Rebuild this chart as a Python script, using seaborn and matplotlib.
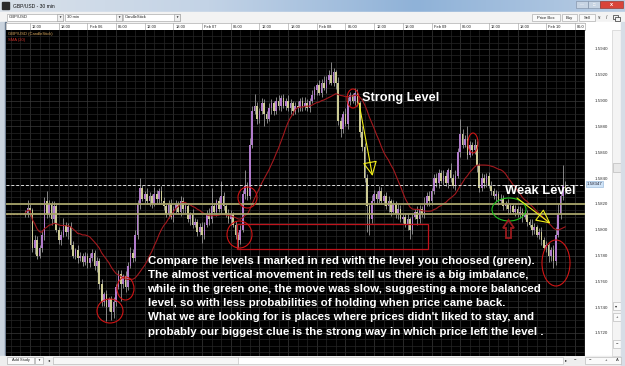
import numpy as np
import pandas as pd
import matplotlib
matplotlib.use("Agg")
import matplotlib.pyplot as plt
import seaborn as sns
from matplotlib.patches import Rectangle, Ellipse, Polygon

sns.set_style("dark")
plt.rcParams['font.family'] = ['Liberation Sans', 'DejaVu Sans']

W, H = 625, 366

# ---------------- data (pips above 1.5700, 30-min candles, first candle = Feb 05 11:00) ----
close_pips = [
    113, 117, 115, 86, 92, 80, 86, 96, 122, 112, 120, 108, 118, 100, 92, 96, 104, 98, 102, 88,
    80, 84, 78, 80, 75, 80, 74, 78, 82, 72, 76, 58, 44, 50, 40, 46, 36, 44, 56, 66,
    58, 64, 56, 72, 82, 78, 96, 120, 132, 124, 128, 122, 126, 120, 128, 124, 130, 122, 118, 112,
    120, 110, 116, 120, 114, 122, 116, 118, 108, 112, 104, 106, 98, 102, 96, 104, 112, 108, 118, 114,
    122, 116, 126, 118, 112, 108, 112, 104, 96, 92, 100, 128, 134, 126, 166, 192, 196, 186, 192, 198,
    190, 186, 194, 198, 192, 200, 196, 202, 196, 200, 194, 198, 192, 196, 194, 200, 196, 198, 194, 200,
    204, 208, 212, 206, 214, 210, 216, 220, 214, 222, 214, 184, 178, 190, 182, 200, 204, 200, 206, 198,
    176, 164, 140, 118, 108, 122, 128, 124, 130, 122, 126, 118, 122, 114, 120, 112, 116, 108, 110, 104,
    108, 100, 110, 114, 108, 116, 112, 120, 126, 122, 130, 140, 136, 144, 138, 142, 136, 146, 140, 134,
    142, 160, 174, 166, 170, 158, 166, 162, 166, 150, 132, 140, 136, 142, 134, 130, 126, 128, 122, 124,
    118, 120, 116, 118, 114, 116, 112, 114, 110, 112, 106, 104, 100, 102, 96, 98, 92, 86, 88, 80,
    84, 76, 96, 112, 126, 134, 130,
]
up_wick = [
    2, 6, 3, 2, 4, 3, 2, 4, 3, 8, 3, 2, 4, 3, 2, 3, 5, 2, 3, 4,
    3, 2, 4, 3, 2, 3, 2, 4, 3, 2, 3, 2, 4, 2, 3, 2, 3, 4, 2, 3,
    3, 2, 4, 3, 5, 3, 4, 3, 8, 3, 2, 4, 3, 2, 5, 3, 2, 4, 3, 2,
    3, 4, 2, 3, 2, 4, 3, 2, 3, 2, 4, 3, 2, 3, 4, 2, 3, 5, 14, 3,
    2, 3, 12, 3, 2, 4, 3, 2, 3, 2, 4, 3, 12, 3, 5, 4, 9, 3, 2, 4,
    3, 2, 4, 3, 2, 3, 4, 2, 3, 2, 4, 3, 2, 3, 4, 2, 3, 5, 3, 2,
    4, 3, 2, 4, 3, 5, 3, 4, 10, 3, 2, 4, 3, 2, 4, 3, 3, 2, 4, 3,
    2, 4, 3, 3, 2, 5, 3, 2, 4, 3, 2, 3, 4, 2, 3, 2, 4, 3, 2, 3,
    4, 2, 3, 2, 4, 3, 2, 5, 3, 4, 2, 3, 4, 3, 2, 4, 3, 2, 6, 3,
    4, 3, 12, 4, 3, 10, 3, 2, 4, 3, 2, 4, 3, 2, 3, 4, 2, 3, 2, 4,
    3, 2, 4, 3, 2, 3, 2, 4, 3, 2, 3, 2, 4, 3, 2, 3, 4, 2, 3, 2,
    3, 4, 6, 8, 3, 16, 4,
]
dn_wick = [
    2, 3, 4, 3, 5, 3, 2, 3, 4, 3, 2, 4, 3, 2, 3, 4, 2, 3, 5, 3,
    2, 3, 4, 2, 3, 2, 4, 3, 2, 3, 5, 4, 3, 3, 11, 3, 6, 4, 3, 2,
    13, 3, 4, 3, 2, 3, 2, 3, 4, 2, 3, 2, 4, 3, 2, 3, 4, 2, 3, 2,
    3, 2, 4, 3, 2, 3, 4, 3, 2, 4, 3, 2, 3, 2, 6, 3, 2, 4, 3, 2,
    3, 2, 4, 3, 2, 3, 4, 2, 3, 6, 3, 2, 4, 3, 2, 3, 2, 4, 3, 2,
    10, 3, 2, 4, 3, 2, 3, 4, 2, 3, 2, 4, 3, 2, 3, 2, 4, 3, 2, 3,
    2, 3, 4, 2, 3, 2, 4, 3, 2, 3, 5, 3, 6, 3, 2, 4, 3, 2, 3, 2,
    4, 3, 3, 20, 12, 3, 2, 4, 3, 2, 3, 2, 4, 3, 2, 3, 4, 2, 3, 2,
    4, 7, 3, 2, 4, 3, 2, 3, 2, 4, 3, 2, 3, 4, 2, 3, 2, 4, 3, 2,
    3, 2, 4, 3, 2, 3, 2, 4, 3, 5, 3, 2, 4, 3, 2, 3, 2, 4, 3, 2,
    3, 2, 3, 4, 2, 3, 2, 3, 4, 2, 3, 2, 4, 3, 2, 3, 4, 2, 3, 5,
    4, 6, 3, 2, 4, 3, 2,
]
first_open_pips = 112
price_ticks = [1.5720, 1.5740, 1.5760, 1.5780, 1.5800, 1.5820, 1.5840,
               1.5860, 1.5880, 1.5900, 1.5920, 1.5940]
time_labels = ["12:00", "18:00", "Feb 06", "06:00", "12:00", "18:00", "Feb 07", "06:00",
               "12:00", "18:00", "Feb 08", "06:00", "12:00", "18:00", "Feb 09", "06:00",
               "12:00", "18:00", "Feb 10", "06:0"]
time_label_idx = [0, 12, 24, 36, 48, 60, 72, 84, 96, 108, 120, 132, 144, 156, 168,
                  180, 192, 204, 216, 228]
last_price = 1.58347
zone_top, zone_bot = 1.5820, 1.58125
red_box = (86.5, 166.5, 1.5785, 1.58046)   # x from, x to, price low, price high

# ---------------- derived frame ----------------
base = 1.5700
idx = np.arange(-2, -2 + len(close_pips))
c = base + np.array(close_pips) / 10000.0
o = np.concatenate([[base + first_open_pips / 10000.0], c[:-1]])
hi = np.maximum(o, c) + np.array(up_wick) / 10000.0
lo = np.minimum(o, c) - np.array(dn_wick) / 10000.0
df = pd.DataFrame({"i": idx, "open": o, "close": c, "high": hi, "low": lo})
df["sma"] = df["close"].rolling(20, min_periods=1).mean()

# pixel <-> data helpers (layout only)
PX_PER_BAR = 2.39
X0PX = 30.0
PX_PER_UNIT = 12909.0
def xi(px):
    return (px - X0PX) / PX_PER_BAR
def yp(py):
    return 1.5940 - (py - 49.0) / PX_PER_UNIT

fig = plt.figure(figsize=(W / 100, H / 100), dpi=100)
fig.patch.set_facecolor("#eef0f3")

def pax(x0, y0, x1, y1, **kw):
    return fig.add_axes([x0 / W, 1 - y1 / H, (x1 - x0) / W, (y1 - y0) / H], **kw)

# ---------------- window chrome (pixel overlay) ----------------
ov = pax(0, 0, W, H)
ov.set_xlim(0, W); ov.set_ylim(H, 0); ov.axis("off")
grad = np.linspace(0, 1, 256).reshape(1, -1)
ov.imshow(grad, extent=(0, W, 12, 0), cmap=matplotlib.colors.LinearSegmentedColormap.from_list(
    "tb", ["#d9e1ea", "#c3d3e6", "#8fb2d8", "#b9cde4"]), aspect="auto", zorder=1)
ov.add_patch(Rectangle((2, 2), 7, 7, color="#2b2b2b", zorder=2))
ov.text(13, 6.2, "GBP/USD - 30 min", fontsize=3.6, va="center", ha="left", color="#111", zorder=3)
ov.add_patch(Rectangle((576, 0.5), 12, 7.5, fc="#c7d4e3", ec="#7a8aa0", lw=0.4, zorder=2))
ov.add_patch(Rectangle((588, 0.5), 12, 7.5, fc="#c7d4e3", ec="#7a8aa0", lw=0.4, zorder=2))
ov.add_patch(Rectangle((600, 0.5), 23, 7.5, fc="#d9443a", ec="#8a2a20", lw=0.4, zorder=2))
ov.text(582, 4.5, "—", fontsize=3, ha="center", va="center", color="#fff", zorder=3)
ov.text(594, 4.5, "□", fontsize=3, ha="center", va="center", color="#fff", zorder=3)
ov.text(611.5, 4.5, "x", fontsize=4, ha="center", va="center", color="#fff", weight="bold", zorder=3)
# toolbar
ov.add_patch(Rectangle((0, 12), W, 10.5, color="#f3f3f3", zorder=1))
for (a, b, lab) in [(7, 63, "GBP/USD"), (65, 121.5, "30 min"), (123, 180, "CandleStick")]:
    ov.add_patch(Rectangle((a, 13.5), b - a, 7.5, fc="white", ec="#9a9a9a", lw=0.4, zorder=2))
    ov.add_patch(Rectangle((b - 6, 13.5), 6, 7.5, fc="#f0f0f0", ec="#9a9a9a", lw=0.4, zorder=2))
    ov.text(b - 3, 17.3, "▼", fontsize=2.3, ha="center", va="center", color="#222", zorder=3)
    ov.text(a + 2, 17.3, lab, fontsize=3, ha="left", va="center", color="#222", zorder=3)
for (a, b, lab) in [(532, 560, "Price Box"), (562, 577, "Buy"), (579, 595, "Sell")]:
    ov.add_patch(Rectangle((a, 14), b - a, 7, fc="#fafafa", ec="#a0a0a0", lw=0.4, zorder=2))
    ov.text((a + b) / 2, 17.6, lab, fontsize=3, ha="center", va="center", color="#222", zorder=3)
ov.text(599.5, 17.6, "¥", fontsize=3.2, ha="center", va="center", color="#333", zorder=3)
ov.text(607, 17.6, "/", fontsize=3.6, ha="center", va="center", color="#333", zorder=3)
# "restore window" icon drawn as two small squares
ov.add_patch(Rectangle((613, 14.5), 4.5, 4, fc="none", ec="#333", lw=0.5, zorder=3))
ov.add_patch(Rectangle((615, 16.5), 4.5, 4, fc="#f3f3f3", ec="#333", lw=0.5, zorder=3))
# left frame
ov.add_patch(Rectangle((0, 22), 6, H - 22, color="#c9d3de", zorder=1))
ov.add_patch(Rectangle((4.5, 22), 1.5, H - 22, color="#6f7f92", zorder=1))
# right price panel + scrollbar
ov.add_patch(Rectangle((585, 22), 40, H - 22, color="#ffffff", zorder=1))
ov.add_patch(Rectangle((612, 30), 9, 326, fc="#f4f4f4", ec="#c8c8c8", lw=0.4, zorder=2))
ov.add_patch(Rectangle((612.5, 163), 8, 9, fc="#e8e8e8", ec="#b0b0b0", lw=0.4, zorder=2))
for yy, s in [(306, "▾"), (317, "+"), (344, "−")]:
    ov.add_patch(Rectangle((612.5, yy - 4), 8, 8, fc="#fafafa", ec="#b0b0b0", lw=0.4, zorder=2))
    ov.text(616.5, yy, s, fontsize=3, ha="center", va="center", color="#222", zorder=3)
ov.add_patch(Rectangle((621, 22), 4, H - 22, color="#d6dde6", zorder=2))
# bottom bar
ov.add_patch(Rectangle((0, 356), W, 10, color="#eeeeee", zorder=1))
ov.add_patch(Rectangle((7, 357), 27, 6.5, fc="#fafafa", ec="#a0a0a0", lw=0.4, zorder=2))
ov.text(20.5, 360.3, "Add Study", fontsize=2.8, ha="center", va="center", color="#222", zorder=3)
ov.add_patch(Rectangle((35, 357), 8, 6.5, fc="#fafafa", ec="#a0a0a0", lw=0.4, zorder=2))
ov.text(39, 360.3, "▼", fontsize=2.2, ha="center", va="center", color="#222", zorder=3)
ov.text(49, 360.3, "◂", fontsize=3, ha="center", va="center", color="#222", zorder=3)
ov.add_patch(Rectangle((53, 357), 510, 6.5, fc="#ffffff", ec="#b8b8b8", lw=0.4, zorder=2))
ov.add_patch(Rectangle((53, 357), 185, 6.5, fc="#f6f6f6", ec="#b8b8b8", lw=0.4, zorder=2))
ov.text(566, 360.3, "▸", fontsize=3, ha="center", va="center", color="#222", zorder=3)
ov.text(575, 360.3, "−", fontsize=3, ha="center", va="center", color="#222", zorder=3)
ov.add_patch(Rectangle((585, 357), 36, 6.5, fc="#fafafa", ec="#b0b0b0", lw=0.4, zorder=2))
ov.text(590, 360.3, "−", fontsize=3, ha="center", va="center", color="#222", zorder=3)
ov.text(606, 360.3, "+", fontsize=3, ha="center", va="center", color="#222", zorder=3)
ov.text(617, 360.3, "A", fontsize=3, ha="center", va="center", color="#222", zorder=3)

# ---------------- time header ----------------
th = pax(6, 22.5, 585, 30)
th.set_facecolor("white")
th.set_xlim(xi(6), xi(585)); th.set_ylim(0, 1)
th.set_xticks([]); th.set_yticks([])
for s in th.spines.values():
    s.set_color("#9a9a9a"); s.set_linewidth(0.4)
for t, lab in zip(time_label_idx, time_labels):
    th.axvline(t, color="#9a9a9a", lw=0.4)
    th.text(t + 0.9, 0.45, lab, fontsize=2.9, va="center", ha="left", color="#222", clip_on=True)

# ---------------- main chart ----------------
ax = pax(6, 30, 585, 356)
ax.set_facecolor("black")
ax.set_xlim(xi(6), xi(585))
ax.set_ylim(yp(356), yp(30))
for s in ax.spines.values():
    s.set_visible(False)

# grid
ax.set_xticks(np.arange(-8, 233, 4), minor=True)
ax.set_yticks(np.arange(1.5705, 1.5955, 0.0005), minor=True)
ax.grid(which="minor", color="#262626", lw=0.5)
ax.grid(which="major", color="#3a3a3a", lw=0.5)
ax.set_xticks(time_label_idx)
ax.tick_params(axis="x", which="both", length=0, labelbottom=False)
ax.yaxis.tick_right()
ax.set_yticks(price_ticks)
ax.set_yticklabels([f"{v:.4f}" for v in price_ticks])
ax.tick_params(axis="y", which="both", length=0, pad=7, labelsize=3.2, labelcolor="#333")

# candles
up = df["close"] >= df["open"]
ax.vlines(df["i"], df["low"], df["high"], color="#9a9a9a", lw=0.6, zorder=2)
body_lo = np.minimum(df["open"], df["close"])
body_h = np.maximum(np.abs(df["close"] - df["open"]), 0.00003)
ax.bar(df["i"], body_h, bottom=body_lo, width=0.7,
       color=np.where(up, "#b27ccd", "#cdcb94"), linewidth=0, zorder=3)

# SMA(20)
sns.lineplot(data=df, x="i", y="sma", ax=ax, color="#a3191e", lw=0.8, zorder=4, legend=False)
ax.plot([xi(6), -2], [zone_bot, zone_bot], color="#e05050", lw=0.8, ls=(0, (1.5, 1.5)), zorder=4)
ax.set_xlabel(""); ax.set_ylabel("")

# horizontal levels
ax.axhline(last_price, color="#dddddd", lw=0.7, ls=(0, (3, 2)), zorder=5)
ax.axhline(zone_top, color="#a7a36a", lw=1.3, zorder=5)
ax.axhline(zone_bot, color="#a7a36a", lw=1.3, zorder=5)
ax.add_patch(Rectangle((red_box[0], red_box[2]), red_box[1] - red_box[0], red_box[3] - red_box[2],
                       fc="none", ec="#c0141c", lw=0.9, zorder=5))

# legend texts
ax.text(xi(8), yp(33.5), "GBP/USD (CandleStick)", fontsize=3, color="#d7a55a", va="center", ha="left")
ax.text(xi(8), yp(39.5), "SMA (20)", fontsize=3, color="#d0302a", va="center", ha="left")

# circles
def ell(cx, cy, w, h, col="#d01515", lw=0.8):
    ax.add_patch(Ellipse((xi(cx), yp(cy)), w / PX_PER_BAR, h / PX_PER_UNIT,
                         fc="none", ec=col, lw=lw, zorder=6))
ell(110, 311, 26, 24)
ell(125.5, 288.5, 17, 23)
ell(247.5, 197.5, 19, 21)
ell(239.5, 234.5, 25, 27)
ell(353, 98.5, 12, 19)
ell(473, 143, 10, 20)
ell(556, 263, 28, 46)
ell(509, 209.5, 34, 23, col="#22c322")

# yellow arrows
ap = dict(arrowstyle="-|>,head_length=0.9,head_width=0.45", color="#f2ef1a", lw=0.8,
          fc="none", shrinkA=0, shrinkB=0)
ax.annotate("", xy=(xi(372.5), yp(176)), xytext=(xi(359), yp(103)), arrowprops=ap, zorder=7)
ax.annotate("", xy=(xi(550.5), yp(223.5)), xytext=(xi(517), yp(198)), arrowprops=ap, zorder=7)

# red up block arrow
arrow_px = [(508.5, 220), (514, 228), (511, 228), (511, 238), (506, 238), (506, 228), (503, 228)]
ax.add_patch(Polygon([(xi(a), yp(b)) for a, b in arrow_px], closed=True, fc="none",
                     ec="#9b1b1f", lw=1.3, zorder=7))

# annotations text
ax.text(xi(362), yp(98), "Strong Level", fontsize=9.2, weight="bold", color="white",
        va="center", ha="left", zorder=8)
ax.text(xi(505), yp(191), "Weak Level", fontsize=9.4, weight="bold", color="white",
        va="center", ha="left", zorder=8)
para = ("Compare the levels I marked in red with the level you choosed (green).\n"
        "The almost vertical movement in reds tell us there is a big imbalance,\n"
        "while in the green one, the move was slow, suggesting a more balanced\n"
        "level, so with less probabilities of holding when price came back.\n"
        "What we are looking for is places where prices didn't liked to stay, and\n"
        "probably our biggest clue is the strong way in which price left the level .")
ax.text(xi(147.5), yp(255.5), para, fontsize=8.25, weight="bold", color="white",
        va="top", ha="left", linespacing=1.53, zorder=8)

# last price tag
fig.text(587 / W, 1 - 184 / H, "1.58347", fontsize=3.2, color="#223", va="center", ha="left",
         bbox=dict(boxstyle="square,pad=0.15", fc="#cfe3f7", ec="#8fb3d9", lw=0.4))

fig.savefig("out.png", dpi=100, facecolor=fig.get_facecolor())
